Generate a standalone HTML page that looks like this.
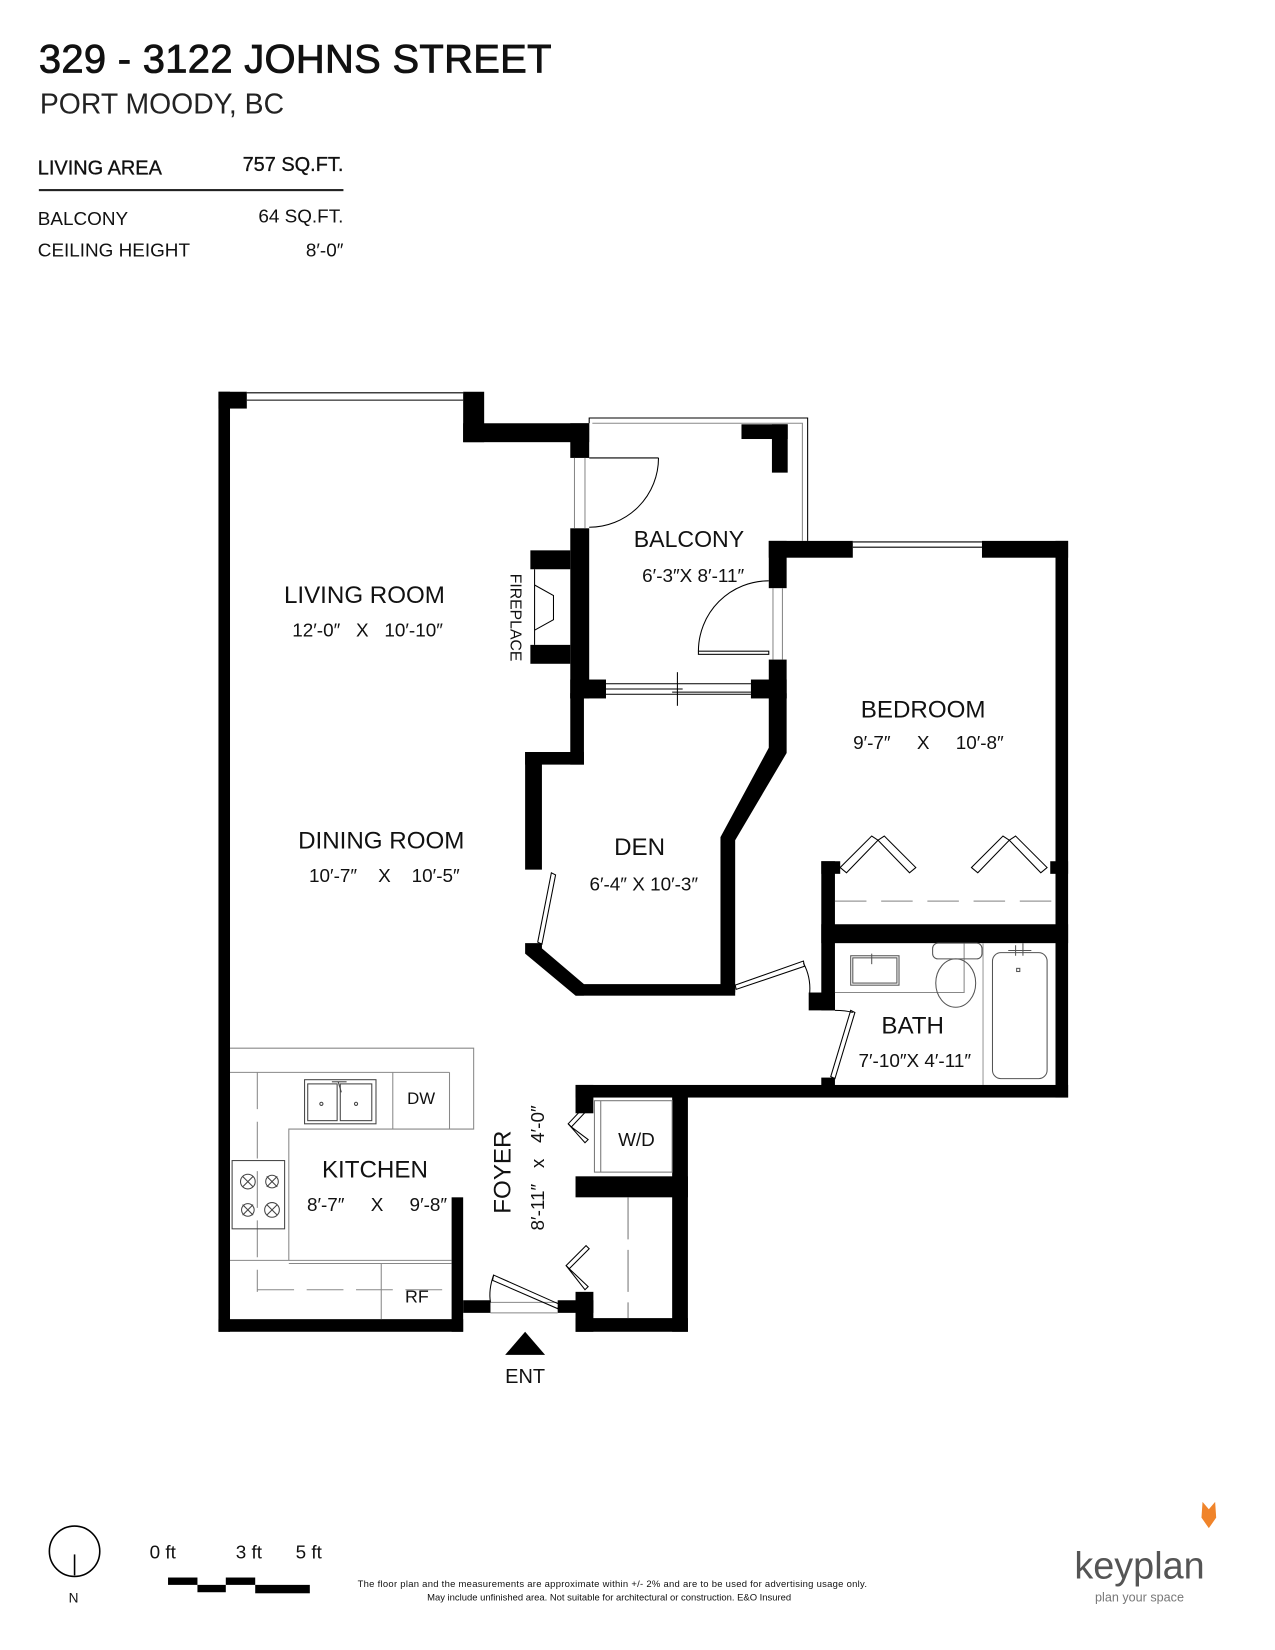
<!DOCTYPE html>
<html><head><meta charset="utf-8"><style>
html,body{margin:0;padding:0;background:#fff}
svg{display:block}
text{font-family:"Liberation Sans",sans-serif;fill:#111;white-space:pre}
</style></head><body>
<svg width="1275" height="1650" viewBox="0 0 1214 1571" preserveAspectRatio="none" xmlns="http://www.w3.org/2000/svg" xml:space="preserve">
<text x="37" y="69" font-size="38" stroke="#111" stroke-width="0.8" letter-spacing="0.3">329 - 3122 JOHNS STREET</text>
<text x="38" y="108" font-size="27" style="fill:#222">PORT MOODY, BC</text>
<text x="36" y="166" font-size="19" stroke="#111" stroke-width="0.3">LIVING AREA</text>
<text x="327" y="163" font-size="19" text-anchor="end" stroke="#111" stroke-width="0.3">757 SQ.FT.</text>
<rect x="37" y="180" width="290" height="2" fill="#222"/>
<text x="36" y="214" font-size="18">BALCONY</text>
<text x="327" y="212" font-size="18" text-anchor="end">64 SQ.FT.</text>
<text x="36" y="244" font-size="18">CEILING HEIGHT</text>
<text x="327" y="244" font-size="18" text-anchor="end">8′-0″</text>

<g fill="#000" stroke="none">
<rect x="208" y="373" width="11" height="895"/>
<rect x="208" y="373" width="27" height="16"/>
<rect x="441" y="373" width="20" height="48"/>
<rect x="441" y="403" width="120" height="18"/>
<rect x="543" y="403" width="18" height="33"/>
<rect x="543" y="503" width="18" height="162"/>
<rect x="505" y="524" width="38" height="18"/>
<rect x="505" y="614" width="38" height="18"/>
<rect x="706" y="404" width="44" height="14"/>
<rect x="735" y="404" width="15" height="46"/>
<rect x="732" y="515" width="80" height="16"/>
<rect x="935" y="515" width="82" height="16"/>
<rect x="1005" y="515" width="12" height="530"/>
<rect x="732" y="515" width="17" height="45"/>
<rect x="732" y="628" width="17" height="37"/>
<rect x="543" y="647" width="34" height="18"/>
<rect x="715" y="647" width="34" height="18"/>
<polygon points="732,660 749,660 749,717 700,800 700,945 686,945 686,797 732,712"/>
<rect x="543" y="660" width="13" height="68"/>
<rect x="500" y="716" width="56" height="12"/>
<rect x="500" y="716" width="16" height="112"/>
<polygon points="500,898 516,898 516,903 556,937 556,948 548,948 500,908"/>
<rect x="548" y="937" width="152" height="11"/>
<rect x="782" y="820" width="18" height="12"/>
<rect x="782" y="820" width="13" height="142"/>
<rect x="782" y="880" width="235" height="18"/>
<rect x="1000" y="820" width="17" height="12"/>
<rect x="770" y="945" width="25" height="17"/>
<rect x="782" y="1026" width="13" height="8"/>
<rect x="548" y="1033" width="469" height="12"/>
<rect x="548" y="1033" width="17" height="27"/>
<rect x="640" y="1040" width="15" height="228"/>
<rect x="548" y="1120" width="107" height="20"/>
<rect x="548" y="1230" width="17" height="38"/>
<rect x="548" y="1255" width="107" height="13"/>
<rect x="531" y="1238" width="34" height="12"/>
<rect x="441" y="1238" width="26" height="12"/>
<rect x="430" y="1140" width="11" height="128"/>
<rect x="208" y="1256" width="233" height="12"/>
</g>

<g fill="none" stroke="#000" stroke-width="1">
<line x1="235" y1="374" x2="441" y2="374"/><line x1="235" y1="381" x2="441" y2="381"/>
<line x1="812" y1="516" x2="935" y2="516"/><line x1="812" y1="521" x2="935" y2="521"/>
<polyline points="561,403 561,398 769,398 769,515" />
<polyline points="564,403 764,403 764,515" stroke="#888"/>
<line x1="547" y1="436" x2="547" y2="503" stroke="#888"/><line x1="557" y1="436" x2="557" y2="503" stroke="#888"/>
<line x1="561" y1="436" x2="627" y2="436"/>
<path d="M627,436 A66,66 0 0 1 561,502"/>
<line x1="736" y1="560" x2="736" y2="628" stroke="#888"/><line x1="745" y1="560" x2="745" y2="628" stroke="#888"/>
<rect x="665" y="620" width="67" height="3"/>
<path d="M665,620 A67,67 0 0 1 732,553"/>
<line x1="577" y1="651" x2="715" y2="651"/><line x1="577" y1="661" x2="715" y2="661"/>
<line x1="577" y1="656" x2="650" y2="656"/><line x1="640" y1="659" x2="715" y2="659"/>
<line x1="645" y1="640" x2="645" y2="672"/>
<polyline points="509,542 509,614"/>
<polyline points="509,557 527,567 527,590 509,600"/>
<polygon points="525,831 529,833 516,899 512,897"/>
<polygon points="700,938 765,915 766,920 701,942"/>
<path d="M765,917 Q772,930 771,945"/>
<polygon points="810,962 814,964 795,1027 791,1025"/>
<path d="M795,962 Q805,962 812,964"/>
<polygon points="800,826 830,796 836,800 806,831"/>
<polygon points="836,800 842,796 872,826 866,831"/>
<polygon points="925,826 955,796 961,800 931,831"/>
<polygon points="961,800 967,796 997,826 991,831"/>
</g>
<line x1="795" y1="858" x2="1005" y2="858" stroke="#999" stroke-width="1.2" stroke-dasharray="30,14"/>
<g fill="none" stroke="#555" stroke-width="1">
<polyline points="795,945 918,945 918,898" stroke="#888"/>
<rect x="810" y="910" width="46" height="28"/><rect x="812" y="912" width="42" height="24"/>
<line x1="830" y1="908" x2="830" y2="918"/>
<rect x="888" y="898" width="47" height="15" rx="5"/>
<ellipse cx="910" cy="936" rx="19" ry="23"/>
<line x1="936" y1="898" x2="936" y2="1033" stroke="#999"/>
<rect x="945" y="907" width="52" height="120" rx="8"/>
<line x1="967" y1="900" x2="967" y2="910"/><line x1="974" y1="898" x2="974" y2="910"/>
<line x1="960" y1="905" x2="982" y2="905"/>
<rect x="968" y="922" width="3" height="3"/>
</g>
<g fill="none" stroke="#777" stroke-width="1">
<rect x="566" y="1048" width="74" height="68"/>
<line x1="572" y1="1048" x2="572" y2="1116"/>
<line x1="598" y1="1140" x2="598" y2="1255" stroke-dasharray="40,10"/>
</g>
<g fill="none" stroke="#000" stroke-width="1">
<polygon points="558,1052 541,1070 544,1073 561,1055"/>
<polygon points="541,1070 557,1088 560,1085 544,1073"/>
<polygon points="558,1186 539,1205 542,1208 561,1189"/>
<polygon points="539,1205 557,1228 560,1225 542,1208"/>
<line x1="467" y1="1240" x2="531" y2="1240" stroke="#888"/><line x1="467" y1="1250" x2="531" y2="1250" stroke="#888"/>
<polygon points="470,1214 533,1242 531,1246 469,1219"/>
<path d="M470,1214 Q465,1228 467,1240"/>
</g>
<g fill="none" stroke="#888" stroke-width="1">
<polyline points="219,998 451,998 451,1075 275,1075 275,1200 219,1200"/>
<line x1="219" y1="1021" x2="428" y2="1021"/>
<line x1="428" y1="1021" x2="428" y2="1075"/>
<line x1="374" y1="1021" x2="374" y2="1075"/>
<line x1="275" y1="1200" x2="430" y2="1200"/>
<line x1="275" y1="1203" x2="430" y2="1203"/>
<line x1="363" y1="1203" x2="363" y2="1256"/>
<line x1="245" y1="1021" x2="245" y2="1230" stroke-dasharray="35,12"/>
<line x1="245" y1="1228" x2="430" y2="1228" stroke-dasharray="35,12"/>
</g>
<g fill="none" stroke="#444" stroke-width="1">
<rect x="290" y="1028" width="68" height="42"/>
<rect x="293" y="1032" width="28" height="35"/><rect x="324" y="1032" width="30" height="35"/>
<line x1="322" y1="1030" x2="325" y2="1040"/><line x1="316" y1="1030" x2="330" y2="1030"/>
<circle cx="306" cy="1051" r="1.5"/><circle cx="339" cy="1051" r="1.5"/>
<rect x="221" y="1105" width="50" height="65"/>
<circle cx="236" cy="1125" r="7"/><circle cx="259" cy="1125" r="6"/>
<circle cx="236" cy="1152" r="6"/><circle cx="259" cy="1152" r="7"/>
<path d="M231,1120 l10,10 M241,1120 l-10,10 M254,1120 l10,10 M264,1120 l-10,10 M231,1147 l10,10 M241,1147 l-10,10 M254,1147 l10,10 M264,1147 l-10,10"/>
</g>

<g text-anchor="middle">
<text x="656" y="521" font-size="22">BALCONY</text>
<text x="660" y="554" font-size="18">6′-3″X 8′-11″</text>
<text x="347" y="574" font-size="23">LIVING ROOM</text>
<text x="350" y="606" font-size="18">12′-0″   X   10′-10″</text>
<text x="879" y="683" font-size="23">BEDROOM</text>
<text x="884" y="713" font-size="18">9′-7″     X     10′-8″</text>
<text x="363" y="808" font-size="23">DINING ROOM</text>
<text x="366" y="840" font-size="18">10′-7″    X    10′-5″</text>
<text x="609" y="814" font-size="23">DEN</text>
<text x="613" y="848" font-size="18">6′-4″ X 10′-3″</text>
<text x="869" y="984" font-size="23">BATH</text>
<text x="871" y="1016" font-size="18">7′-10″X 4′-11″</text>
<text x="357" y="1121" font-size="23">KITCHEN</text>
<text x="359" y="1153" font-size="18">8′-7″     X     9′-8″</text>
<text transform="translate(486,1116) rotate(-90)" font-size="23">FOYER</text>
<text transform="translate(518,1112) rotate(-90)" font-size="18">8′-11″   x   4′-0″</text>
<text transform="translate(486,588) rotate(90)" font-size="15">FIREPLACE</text>
<text x="606" y="1091" font-size="18">W/D</text>
<text x="401" y="1051" font-size="16">DW</text>
<text x="397" y="1240" font-size="17">RF</text>
<text x="500" y="1317" font-size="19">ENT</text>
</g>
<polygon points="500,1268 481,1290 519,1290" fill="#000"/>

<circle cx="71" cy="1477" r="24" fill="none" stroke="#000" stroke-width="1.5"/>
<line x1="71" y1="1480" x2="71" y2="1500" stroke="#000" stroke-width="1.5"/>
<text x="70" y="1526" font-size="13" text-anchor="middle">N</text>
<text x="155" y="1484" font-size="18" text-anchor="middle">0 ft</text>
<text x="237" y="1484" font-size="18" text-anchor="middle">3 ft</text>
<text x="294" y="1484" font-size="18" text-anchor="middle">5 ft</text>
<g fill="#000">
<rect x="160" y="1502" width="28" height="7"/>
<rect x="188" y="1509" width="27" height="7"/>
<rect x="215" y="1502" width="28" height="7"/>
<rect x="243" y="1509" width="52" height="8"/>
</g>
<text x="583" y="1511" font-size="9" text-anchor="middle" textLength="485">The floor plan and the measurements are approximate within +/- 2% and are to be used for advertising usage only.</text>
<text x="580" y="1524" font-size="9" text-anchor="middle">May include unfinished area. Not suitable for architectural or construction. E&amp;O Insured</text>
<text x="1085" y="1503" font-size="36" text-anchor="middle" style="fill:#555">keyplan</text>
<text x="1085" y="1525" font-size="12" text-anchor="middle" style="fill:#777">plan your space</text>
<polygon points="1145,1430 1151,1437 1157,1430 1158,1445 1151,1455 1144,1445" fill="#f0842a"/>
</svg>
</body></html>
